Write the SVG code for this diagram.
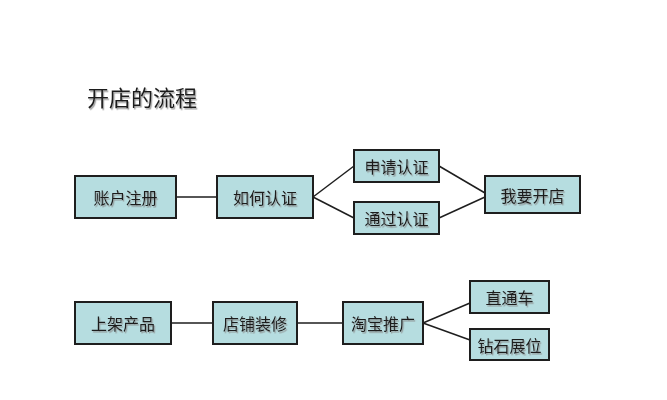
<svg xmlns="http://www.w3.org/2000/svg" width="667" height="400" viewBox="0 0 667 400">
<defs>
<filter id="sh" x="-10%" y="-20%" width="130%" height="150%">
<feDropShadow dx="1.2" dy="1.5" stdDeviation="0.6" flood-color="#888" flood-opacity="0.8"/>
</filter>
<style>
.box{fill:#b6dde0;stroke:#1e1e1e;stroke-width:2}
.t{font-family:"Noto Sans CJK SC","Liberation Sans",sans-serif;font-size:16px;fill:#1a1a1a;text-anchor:middle;dominant-baseline:central;filter:url(#sh)}
.ln{stroke:#1e1e1e;stroke-width:1.5;fill:none}
</style>
</defs>
<rect width="667" height="400" fill="#ffffff"/>
<text x="87" y="106" font-family="'Noto Sans CJK SC','Liberation Sans',sans-serif" font-size="22" fill="#1a1a1a" filter="url(#sh)">开店的流程</text>
<g id="connectors">
<line class="ln" x1="176" y1="197" x2="217" y2="197"/>
<line class="ln" x1="313" y1="197" x2="354" y2="166"/>
<line class="ln" x1="313" y1="197" x2="354" y2="218"/>
<line class="ln" x1="439" y1="166" x2="485" y2="193"/>
<line class="ln" x1="439" y1="218" x2="485" y2="197"/>
<line class="ln" x1="171" y1="323" x2="213" y2="323"/>
<line class="ln" x1="297" y1="323" x2="343" y2="323"/>
<line class="ln" x1="423" y1="323" x2="470" y2="303"/>
<line class="ln" x1="423" y1="323" x2="470" y2="340"/>
</g>
<g id="n1"><rect class="box" x="75" y="176" width="101" height="42"/><text class="t" x="125.5" y="197">账户注册</text></g>
<g id="n2"><rect class="box" x="217" y="176" width="96" height="42"/><text class="t" x="265" y="197">如何认证</text></g>
<g id="n3"><rect class="box" x="354" y="150" width="85" height="32"/><text class="t" x="396.5" y="166">申请认证</text></g>
<g id="n4"><rect class="box" x="354" y="202" width="85" height="32"/><text class="t" x="396.5" y="218">通过认证</text></g>
<g id="n5"><rect class="box" x="485" y="176" width="95" height="37"/><text class="t" x="532.5" y="194.5">我要开店</text></g>
<g id="n6"><rect class="box" x="75" y="302" width="96" height="42"/><text class="t" x="123" y="323">上架产品</text></g>
<g id="n7"><rect class="box" x="213" y="302" width="84" height="42"/><text class="t" x="255" y="323">店铺装修</text></g>
<g id="n8"><rect class="box" x="343" y="302" width="80" height="42"/><text class="t" x="383" y="323">淘宝推广</text></g>
<g id="n9"><rect class="box" x="470" y="281" width="79" height="32"/><text class="t" x="509.5" y="297">直通车</text></g>
<g id="n10"><rect class="box" x="470" y="329" width="79" height="31"/><text class="t" x="509.5" y="344.5">钻石展位</text></g>
</svg>
